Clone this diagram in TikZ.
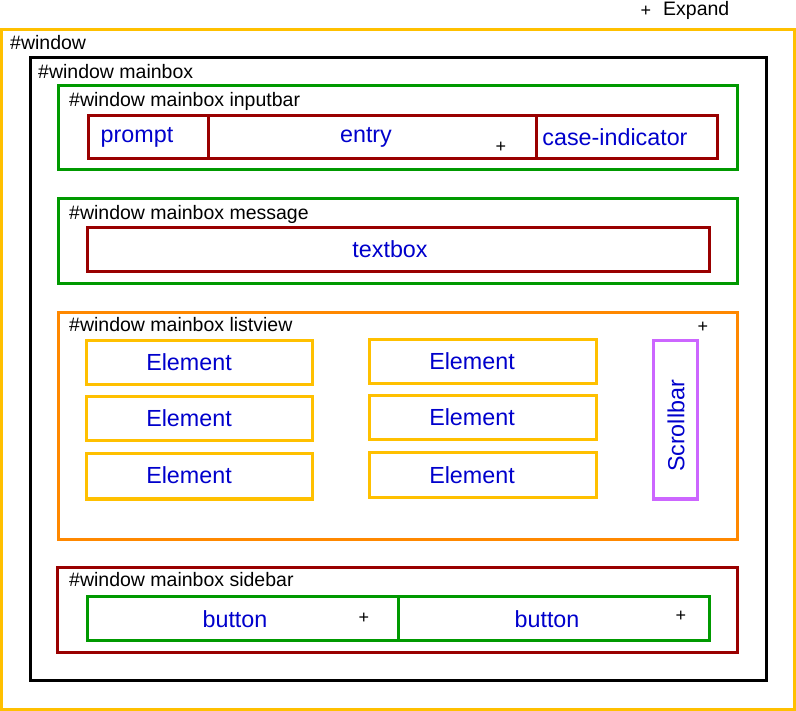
\documentclass[tikz,border=0pt]{standalone}
\usepackage{fontspec}
\setmainfont{Liberation Sans}
\definecolor{cyel}{HTML}{FFC000}
\definecolor{cgreen}{HTML}{009900}
\definecolor{cred}{HTML}{990000}
\definecolor{corange}{HTML}{FF8800}
\definecolor{cviolet}{HTML}{CC66FF}
\definecolor{cblue}{HTML}{0000CC}
\begin{document}
\begin{tikzpicture}[x=1pt,y=-1pt,
  frame/.style={draw=#1,line width=3pt},
  lbl/.style={anchor=base west,inner sep=0pt,font=\fontsize{19.5}{22}\selectfont,text=black},
  item/.style={anchor=base,inner sep=0pt,font=\fontsize{23.3}{26}\selectfont,text=cblue},
  plus/.style={inner sep=0pt,font=\fontsize{18}{20}\selectfont,text=black}]
\useasboundingbox[fill=white] (0,0) rectangle (796,711);
% window
\draw[frame=cyel] (1.5,30) rectangle (794,709);
\node[lbl] (lwin) at (10,50) {\#window};
\node[plus] (pexp) at (646,11) {+};
\node[lbl] (lexp) at (663,16) {Expand};
% mainbox
\draw[frame=black] (30,58) rectangle (766,680);
\node[lbl] (lmain) at (38,79) {\#window mainbox};
% inputbar
\draw[frame=cgreen] (58,86) rectangle (737,170);
\node[lbl] (linp) at (69,107) {\#window mainbox inputbar};
\draw[frame=cred] (88,116) rectangle (208,159);
\draw[frame=cred] (208,116) rectangle (536,159);
\draw[frame=cred] (536,116) rectangle (717,159);
\node[item] (tprompt) at (137,143) {prompt};
\node[item] (tentry) at (366,143) {entry};
\node[plus] (pentry) at (501,147.5) {+};
\node[item] (tcase) at (615,146) {case-indicator};
% message
\draw[frame=cgreen] (58,199) rectangle (737,284);
\node[lbl] (lmsg) at (69,220) {\#window mainbox message};
\draw[frame=cred] (87,228) rectangle (709,272);
\node[item] (ttext) at (390,258) {textbox};
% listview
\draw[frame=corange] (58,313) rectangle (737,539);
\node[lbl] (llist) at (69,332) {\#window mainbox listview};
\node[plus] (plist) at (703,327) {+};
\draw[frame=cyel] (86,341) rectangle (312,385);
\draw[frame=cyel] (86,397) rectangle (312,441);
\draw[frame=cyel] (86,454) rectangle (312,499);
\draw[frame=cyel] (369,340) rectangle (596,384);
\draw[frame=cyel] (369,396) rectangle (596,440);
\draw[frame=cyel] (369,453) rectangle (596,498);
\node[item] (e1) at (189,371) {Element};
\node[item] (e2) at (189,427) {Element};
\node[item] (e3) at (189,484) {Element};
\node[item] (e4) at (472,370) {Element};
\node[item] (e5) at (472,426) {Element};
\node[item] (e6) at (472,484) {Element};
\draw[frame=cviolet] (653,341) rectangle (697,499);
\node[item,anchor=center,rotate=90] (tscroll) at (676,426) {Scrollbar};
% sidebar
\draw[frame=cred] (57,567) rectangle (737,652);
\node[lbl] (lside) at (69,586) {\#window mainbox sidebar};
\draw[frame=cgreen] (87,596) rectangle (398,640);
\draw[frame=cgreen] (398,596) rectangle (709,640);
\node[item] (b1) at (235,627) {button};
\node[item] (b2) at (547,627) {button};
\node[plus] (pb1) at (364,618) {+};
\node[plus] (pb2) at (681,616) {+};
\end{tikzpicture}
\end{document}
